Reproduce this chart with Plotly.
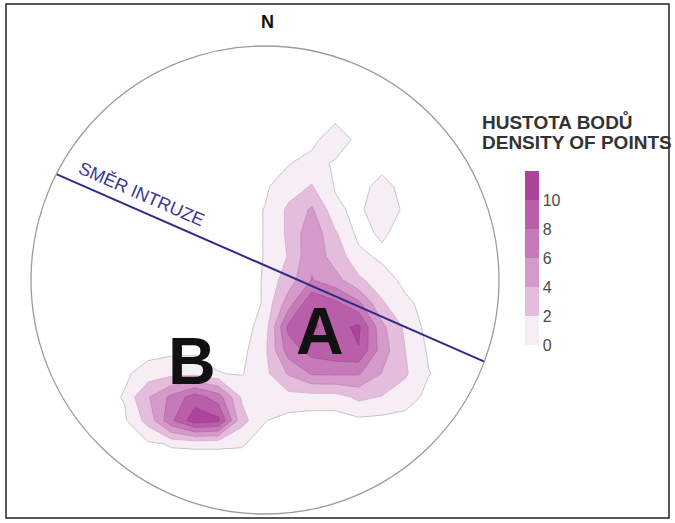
import math
import plotly.graph_objects as go

# Grid over the primitive circle (radius 1), spacing 0.1
grid_x = [-0.7, -0.6, -0.5, -0.4, -0.3, -0.2, -0.1, 0.0, 0.1, 0.2, 0.3, 0.4, 0.5, 0.6, 0.7, 0.8]
grid_y = [0.7, 0.6, 0.5, 0.4, 0.3, 0.2, 0.1, 0.0, -0.1, -0.2, -0.3, -0.4, -0.5, -0.6, -0.7, -0.8]

# Point density per grid node, top row first
density = [
    [0, 0, 0, 0, 0, 0, 0, 0,    0,   0,    0,    0,    0,   0,   0,    0],
    [0, 0, 0, 0, 0, 0, 0, 0,    0,   0,    1.6,  0,    0,   0,   0,    0],
    [0, 0, 0, 0, 0, 0, 0, 0,    0.4, 1.1,  0.3,  0,    0,   0,   0,    0],
    [0, 0, 0, 0, 0, 0, 0, 0.3,  1.3, 2.1,  0.4,  0,    1.0, 0,   0,    0],
    [0, 0, 0, 0, 0, 0, 0, 0.55, 2.3, 4.3,  0.75, 0.2,  1.5, 0.2, 0,    0],
    [0, 0, 0, 0, 0, 0, 0, 0.55, 2.3, 5.5,  2.2,  0.1,  0.7, 0,   0,    0],
    [0, 0, 0, 0, 0, 0, 0, 0.55, 2.1, 5.6,  3.0,  0.9,  0.2, 0,   0,    0],
    [0, 0, 0, 0, 0, 0, 0, 0.6,  3.0, 6.1,  4.8,  2.3,  1.2, 0.1, 0,    0],
    [0, 0, 0, 0, 0, 0, 0, 0.6,  5.0, 9.8,  8.5,  6.5,  2.2, 0.8, 0,    0],
    [0, 0, 0, 0, 0, 0, 0, 1.0,  8.5, 10.3, 9.3,  10.4, 4.5, 1.6, 0,    0],
    [0, 0, 0.1, 0.2, 0.2, 0.1, 0.1, 1.6, 7.0, 8.8, 9.5, 9.9, 5.0, 2.0, 0.3, 0],
    [0, 0.3, 1.0, 1.4, 1.5, 0.55, 0.4, 1.5, 4.2, 6.2, 6.3, 6.2, 3.9, 2.2, 0.55, 0],
    [0, 0.6, 3.8, 6.5, 9.0, 7.0, 1.8, 1.0, 1.3, 1.2, 1.2, 2.4, 1.9, 1.2, 0.1, 0],
    [0, 0.3, 2.6, 7.6, 11.2, 10.5, 2.6, 0.55, 0.1, 0, 0, 0.2, 0.1, 0, 0, 0],
    [0, 0, 0.3, 0.6, 0.65, 0.65, 0.6, 0.1, 0, 0, 0, 0, 0, 0, 0, 0],
    [0, 0, 0, 0, 0, 0, 0, 0, 0, 0, 0, 0, 0, 0, 0, 0],
]

# Contour thresholds and their band colours
levels = [0.5, 2, 4, 6, 8, 10]
band_colors = ["#f7edf5", "#e4bcdc", "#d49ac9", "#c67ab8", "#b95fa9", "#ad449b"]
edge_colors = ["#c4c4c4", "#d7a9cf", "#c486b9", "#b466a7", "#a84f99", "#9c3a8c"]

# Colour bar scale
scale_max = 12
density_ticks = [0, 2, 4, 6, 8, 10]

# Azimuths (degrees) where the intrusion trend meets the primitive circle
intrusion_ends_az = [296.9, 110.4]

FONT = "Liberation Sans, Arial, sans-serif"
W, H = 675, 523
CX, CY, R = 265, 280, 234  # circle centre and radius in pixels

fig = go.Figure()

rows_up = density[::-1]
ys_up = grid_y[::-1]
for lvl, fill, edge in zip(levels, band_colors, edge_colors):
    # "<" marks values >= lvl as outside the constraint, and that part is shaded
    fig.add_trace(go.Contour(
        x=grid_x, y=ys_up, z=rows_up,
        contours=dict(type="constraint", operation="<", value=lvl),
        fillcolor=fill,
        line=dict(color=edge, width=1 if lvl < 1 else 0.8, smoothing=0),
        showscale=False, hoverinfo="skip",
    ))

# Discrete colour scale for the colour bar
cs = []
n = len(band_colors)
for i, c in enumerate(band_colors):
    cs.append([i / n, c])
    cs.append([(i + 1) / n, c])

bar_top, bar_bottom = 171, 345
fig.add_trace(go.Scatter(
    x=[None], y=[None], mode="markers", showlegend=False, hoverinfo="skip",
    marker=dict(
        color=[0], cmin=0, cmax=scale_max, colorscale=cs, showscale=True,
        colorbar=dict(
            x=525 / W, xanchor="left", xpad=0, ypad=0,
            y=1 - (bar_top + bar_bottom) / 2 / H, yanchor="middle",
            len=bar_bottom - bar_top, lenmode="pixels",
            thickness=14, thicknessmode="pixels",
            outlinewidth=0, tickvals=density_ticks, ticks="",
            tickfont=dict(family=FONT, size=16, color="#4a4a4a"),
        ),
    ),
))

# Intrusion trend line
lx = [math.sin(math.radians(a)) for a in intrusion_ends_az]
ly = [math.cos(math.radians(a)) for a in intrusion_ends_az]
fig.add_trace(go.Scatter(
    x=lx, y=ly, mode="lines", showlegend=False, hoverinfo="skip",
    line=dict(color="#2f2b88", width=2),
))

def px(x):
    return (x - CX) / R

def py(y):
    return (CY - y) / R

shapes = [
    dict(type="circle", xref="x", yref="y", x0=-1, y0=-1, x1=1, y1=1,
         line=dict(color="#9c9c9c", width=1.3), layer="above"),
    dict(type="rect", xref="paper", yref="paper",
         x0=6 / W, x1=669 / W, y0=1 - 518 / H, y1=1 - 4 / H,
         line=dict(color="#222222", width=1.5)),
]

annotations = [
    dict(text="N", xref="paper", yref="paper", x=267 / W, y=1 - 22 / H,
         xanchor="center", yanchor="middle", showarrow=False,
         font=dict(family=FONT, size=18, color="#111", weight="bold")),
    dict(text="SMĚR INTRUZE", xref="x", yref="y", x=px(141), y=py(194),
         xanchor="center", yanchor="middle", textangle=23.5, showarrow=False,
         font=dict(family=FONT, size=18, color="#3a3690")),
    dict(text="A", xref="x", yref="y", x=px(320), y=py(331), showarrow=False,
         xanchor="center", yanchor="middle",
         font=dict(family=FONT, size=66, color="#111", weight="bold")),
    dict(text="B", xref="x", yref="y", x=px(192), y=py(361), showarrow=False,
         xanchor="center", yanchor="middle",
         font=dict(family=FONT, size=66, color="#111", weight="bold")),
    dict(text="HUSTOTA BODŮ", xref="paper", yref="paper", x=480 / W, y=1 - 122 / H,
         xanchor="left", yanchor="middle", showarrow=False,
         font=dict(family=FONT, size=19, color="#333", weight="bold")),
    dict(text="DENSITY OF POINTS", xref="paper", yref="paper", x=480 / W, y=1 - 142 / H,
         xanchor="left", yanchor="middle", showarrow=False,
         font=dict(family=FONT, size=19, color="#333", weight="bold")),
]

fig.update_layout(
    width=W, height=H, autosize=False,
    margin=dict(l=0, r=0, t=0, b=0, pad=0, autoexpand=False),
    paper_bgcolor="white", plot_bgcolor="white",
    xaxis=dict(range=[px(0), px(W)], visible=False, showgrid=False, zeroline=False),
    yaxis=dict(range=[py(H), py(0)], visible=False, showgrid=False, zeroline=False),
    shapes=shapes, annotations=annotations, showlegend=False,
)

fig.write_html("out.html")
